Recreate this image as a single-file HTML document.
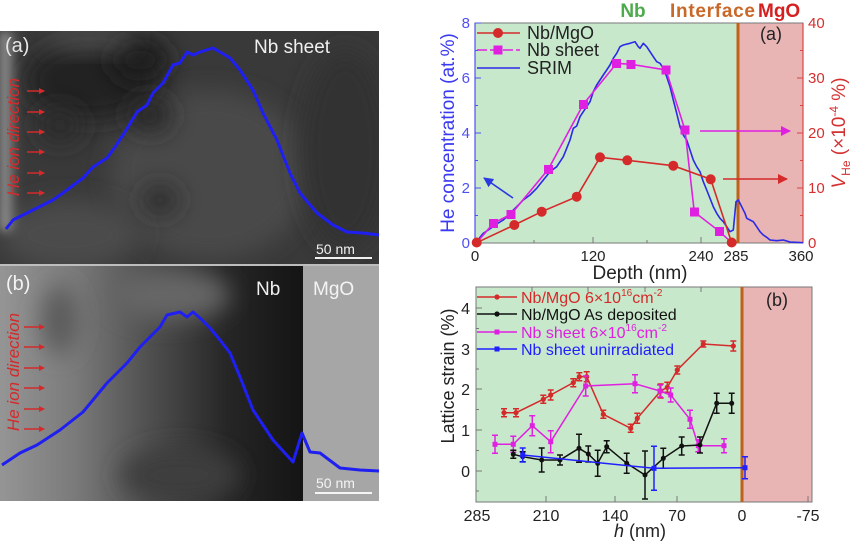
<!DOCTYPE html>
<html><head><meta charset="utf-8">
<style>
html,body{margin:0;padding:0;background:#fff;}
svg{display:block;font-family:"Liberation Sans",Arial,sans-serif;}
</style></head>
<body>
<svg width="858" height="546" viewBox="0 0 858 546" xmlns="http://www.w3.org/2000/svg">
<defs>
  <filter id="bl" x="-100%" y="-100%" width="300%" height="300%"><feGaussianBlur stdDeviation="12"/></filter>
  <filter id="bls" x="-100%" y="-100%" width="300%" height="300%"><feGaussianBlur stdDeviation="5"/></filter>
  <linearGradient id="gB" x1="0" y1="0" x2="1" y2="0">
    <stop offset="0" stop-color="#959595"/>
    <stop offset="0.25" stop-color="#7a7a7a"/>
    <stop offset="0.5" stop-color="#4e4e4e"/>
    <stop offset="0.75" stop-color="#262626"/>
    <stop offset="1" stop-color="#141414"/>
  </linearGradient>
  <linearGradient id="gAleft" x1="0" y1="0" x2="1" y2="0">
    <stop offset="0" stop-color="#b0b0b0"/>
    <stop offset="1" stop-color="#b0b0b0" stop-opacity="0"/>
  </linearGradient>
  <marker id="arR" markerWidth="6" markerHeight="6" refX="5" refY="3" orient="auto" markerUnits="userSpaceOnUse">
    <path d="M0,0 L6,3 L0,6 z" fill="#d42a2a"/>
  </marker>
  <marker id="arB" markerWidth="10" markerHeight="10" refX="9" refY="5" orient="auto" markerUnits="userSpaceOnUse">
    <path d="M0,0 L10,5 L0,10 z" fill="#2a3ae0"/>
  </marker>
  <marker id="arM" markerWidth="10" markerHeight="10" refX="9" refY="5" orient="auto" markerUnits="userSpaceOnUse">
    <path d="M0,0 L10,5 L0,10 z" fill="#e020e0"/>
  </marker>
  <marker id="arRd" markerWidth="10" markerHeight="10" refX="9" refY="5" orient="auto" markerUnits="userSpaceOnUse">
    <path d="M0,0 L10,5 L0,10 z" fill="#d42a2a"/>
  </marker>
  <clipPath id="cA"><rect x="0" y="31" width="379" height="233"/></clipPath>
  <clipPath id="cB"><rect x="0" y="266" width="379" height="235"/></clipPath>
</defs>

<!-- ============ TEM (a) ============ -->
<g clip-path="url(#cA)">
  <rect x="0" y="31" width="379" height="233" fill="#393939"/>
  <ellipse cx="210" cy="175" rx="100" ry="85" fill="#494949" filter="url(#bl)"/>
  <ellipse cx="70" cy="235" rx="70" ry="35" fill="#4c4c4c" filter="url(#bl)"/>
  <ellipse cx="345" cy="150" rx="45" ry="100" fill="#333" filter="url(#bl)"/>
  <ellipse cx="90" cy="80" rx="65" ry="40" fill="#202020" filter="url(#bl)"/>
  <ellipse cx="140" cy="60" rx="30" ry="22" fill="#1c1c1c" filter="url(#bl)"/>
  <ellipse cx="150" cy="115" rx="22" ry="18" fill="#262626" filter="url(#bl)"/>
  <ellipse cx="60" cy="125" rx="22" ry="18" fill="#2a2a2a" filter="url(#bl)"/>
  <ellipse cx="160" cy="200" rx="18" ry="14" fill="#2c2c2c" filter="url(#bl)"/>
  <ellipse cx="90" cy="40" rx="45" ry="8" fill="#5a5a5a" filter="url(#bl)"/>
  <rect x="0" y="31" width="18" height="200" fill="url(#gAleft)" filter="url(#bls)"/>
</g>
<rect x="0" y="264" width="379" height="2" fill="#bdbdbd"/>

<!-- ============ TEM (b) ============ -->
<g clip-path="url(#cB)">
  <rect x="0" y="266" width="303" height="235" fill="url(#gB)"/>
  <ellipse cx="170" cy="295" rx="60" ry="25" fill="#666" filter="url(#bl)"/>
  <ellipse cx="60" cy="320" rx="18" ry="35" fill="#5a5a5a" filter="url(#bl)"/>
  <ellipse cx="180" cy="475" rx="60" ry="28" fill="#3c3c3c" filter="url(#bl)"/>
  <rect x="303" y="266" width="76" height="235" fill="#a6a6a6"/>
</g>

<!-- TEM blue curves -->
<polyline fill="none" stroke="#1f1ff2" stroke-width="3" stroke-linejoin="round"
 points="6,229 13,220 33,210 53,200 67,190 83,178 93,167 107,158 115,147 125,132 137,112 147,105 153,93 163,83 173,65 180,63 187,52 193,55 200,52 213,48 220,52 230,58 240,70 253,90 263,113 277,140 290,173 300,193 317,213 333,225 347,232 363,233 379,235"/>
<polyline fill="none" stroke="#1f1ff2" stroke-width="3" stroke-linejoin="round"
 points="2,465 20,453 37,445 60,430 83,412 107,383 127,363 140,347 160,327 167,315 180,312 187,317 193,312 200,318 210,328 220,340 230,353 240,377 253,410 273,440 293,462 302,433 310,452 320,453 340,468 360,470 379,471"/>

<!-- TEM labels -->
<text x="5" y="52" font-size="20" fill="#e6e6e6">(a)</text>
<text x="254" y="53" font-size="19" fill="#f0f0f0">Nb sheet</text>
<text x="316" y="254" font-size="14" fill="#f0f0f0">50 nm</text>
<rect x="315" y="257" width="57" height="2" fill="#f0f0f0"/>
<text x="6" y="290" font-size="20" fill="#f4f4f4">(b)</text>
<text x="256" y="295" font-size="19" fill="#f0f0f0">Nb</text>
<text x="313" y="295" font-size="19" fill="#f4f4f4">MgO</text>
<text x="316" y="488" font-size="14" fill="#f4f4f4">50 nm</text>
<rect x="315" y="492" width="57" height="2" fill="#f4f4f4"/>

<text transform="translate(19,137) rotate(-90)" font-size="17" font-style="italic" fill="#d42a2a" text-anchor="middle">He ion direction</text>
<text transform="translate(19,372) rotate(-90)" font-size="17" font-style="italic" fill="#d42a2a" text-anchor="middle">He ion direction</text>
<g stroke="#d42a2a" stroke-width="1.6" marker-end="url(#arR)">
  <line x1="27" y1="91" x2="44" y2="91"/><line x1="27" y1="112" x2="44" y2="112"/>
  <line x1="27" y1="132" x2="44" y2="132"/><line x1="27" y1="152" x2="44" y2="152"/>
  <line x1="27" y1="173" x2="44" y2="173"/><line x1="27" y1="193" x2="44" y2="193"/>
  <line x1="24" y1="327" x2="44" y2="327"/><line x1="24" y1="347" x2="44" y2="347"/>
  <line x1="24" y1="368" x2="44" y2="368"/><line x1="24" y1="388" x2="44" y2="388"/>
  <line x1="24" y1="409" x2="44" y2="409"/><line x1="24" y1="429" x2="44" y2="429"/>
</g>

<!-- ============ Chart (a) ============ -->
<text x="633" y="17" font-size="19" font-weight="bold" fill="#4daa4d" text-anchor="middle">Nb</text>
<text x="670" y="17" font-size="19" font-weight="bold" fill="#c8692a" textLength="85">Interface</text>
<text x="758" y="17" font-size="19" font-weight="bold" fill="#d42020">MgO</text>

<rect x="475" y="23" width="263" height="220" fill="#c8e8cc"/>
<rect x="738" y="23" width="65" height="220" fill="#e8b4b4"/>
<rect x="475" y="23" width="328" height="220" fill="none" stroke="#777" stroke-width="1"/>
<line x1="738" y1="23" x2="738" y2="243" stroke="#c0601a" stroke-width="3"/>
<line x1="475" y1="23" x2="475" y2="243" stroke="#5050f0" stroke-width="1.2"/>
<line x1="803" y1="23" x2="803" y2="243" stroke="#d44" stroke-width="1.2"/>
<g stroke="#5050f0" stroke-width="1">
  <line x1="475" y1="23" x2="481" y2="23"/><line x1="475" y1="78" x2="481" y2="78"/>
  <line x1="475" y1="133" x2="481" y2="133"/><line x1="475" y1="188" x2="481" y2="188"/>
  <line x1="475" y1="50.5" x2="478" y2="50.5"/><line x1="475" y1="105.5" x2="478" y2="105.5"/>
  <line x1="475" y1="160.5" x2="478" y2="160.5"/><line x1="475" y1="215.5" x2="478" y2="215.5"/>
</g>
<g stroke="#d44" stroke-width="1">
  <line x1="797" y1="78" x2="803" y2="78"/><line x1="797" y1="133" x2="803" y2="133"/>
  <line x1="797" y1="188" x2="803" y2="188"/>
  <line x1="800" y1="50.5" x2="803" y2="50.5"/><line x1="800" y1="105.5" x2="803" y2="105.5"/>
  <line x1="800" y1="160.5" x2="803" y2="160.5"/><line x1="800" y1="215.5" x2="803" y2="215.5"/>
</g>
<g stroke="#777" stroke-width="1">
  <line x1="593" y1="243" x2="593" y2="237"/><line x1="701" y1="243" x2="701" y2="237"/>
  <line x1="534" y1="243" x2="534" y2="240"/><line x1="647" y1="243" x2="647" y2="240"/>
</g>
<g font-size="15" fill="#5050f0" text-anchor="end">
  <text x="470" y="28">8</text><text x="470" y="83">6</text><text x="470" y="138">4</text>
  <text x="470" y="193">2</text><text x="470" y="248">0</text>
</g>
<g font-size="15" fill="#d43030" text-anchor="start">
  <text x="808" y="28">40</text><text x="808" y="83">30</text><text x="808" y="138">20</text>
  <text x="808" y="193">10</text><text x="808" y="248">0</text>
</g>
<g font-size="15" fill="#222" text-anchor="middle">
  <text x="475" y="261">0</text><text x="593" y="261">120</text><text x="701" y="261">240</text>
  <text x="736" y="261">285</text><text x="801" y="261">360</text>
</g>
<text x="640" y="279" font-size="19" fill="#222" text-anchor="middle">Depth (nm)</text>
<text transform="translate(454,133) rotate(-90)" font-size="19" fill="#3a3af0" text-anchor="middle">He concentration (at.%)</text>
<text transform="translate(845,133) rotate(-90)" font-size="19" fill="#d43030" text-anchor="middle"><tspan font-style="italic">V</tspan><tspan font-size="12" dy="5">He</tspan><tspan dy="-5"> (×10</tspan><tspan font-size="12" dy="-7">-4</tspan><tspan dy="7"> %)</tspan></text>

<polyline fill="none" stroke="#2a2ae8" stroke-width="1.6" stroke-linejoin="round"
 points="476.7,242.7 480,237.3 483.3,233.3 488.3,230 496.7,224 503.3,220 510,213.3 516.7,206.7 523.3,200 530,195 536.7,188.3 543.3,180 550,171.7 556.7,166.7 563.3,156.7 566.7,148.3 570,140 573.3,128.3 576.7,126 580,116.7 583.3,111.7 586.7,106.7 590,101.7 593.3,91.7 596.7,85 600,80 603.3,75 606.7,70 610,65 613.3,58.3 616.7,53.3 620,46.7 623.3,45 630,43.3 635,41.7 638.3,46.7 640,48.3 643.3,43.3 646.7,46.7 650,51.7 653.3,56.7 656.7,61.7 660,63.3 663.3,68.3 666.7,76.7 670,86.7 673.3,100 676.7,113.3 680,126.7 683.3,135 686.7,140 690,150 693.3,160 696.7,166.7 700,171.7 703.3,181.7 706.7,190 710,198.3 713.3,206.7 716.7,213.3 720,218.3 723.3,221.7 726.7,226.7 730,231.7 733.3,230 736,201.7 738.3,200 741.7,206.7 745,213.3 746.7,218.3 750,220 753.3,221.7 756.7,226.7 760,231.7 763.3,235 766.7,237.3 770,240 776.7,240.7 783.3,240 790,242 803,242.7"/>
<polyline fill="none" stroke="#e020e0" stroke-width="1.6"
 points="476.7,242.7 493.3,223.3 511,214.3 548.3,169.3 583.3,104.3 616.7,63.3 631,64.3 666,70 685,130 694.3,212 719.3,231.3 731.7,242.7"/>
<g fill="#e020e0">
  <rect x="489" y="219" width="9" height="9"/><rect x="506.5" y="210" width="9" height="9"/>
  <rect x="544" y="165" width="9" height="9"/><rect x="579" y="100" width="9" height="9"/>
  <rect x="612" y="59" width="9" height="9"/><rect x="626.5" y="60" width="9" height="9"/>
  <rect x="661.5" y="65.5" width="9" height="9"/><rect x="680.5" y="125.5" width="9" height="9"/>
  <rect x="690" y="207.5" width="9" height="9"/><rect x="715" y="227" width="9" height="9"/>
</g>
<polyline fill="none" stroke="#d42a2a" stroke-width="1.6"
 points="476.7,242.7 514.3,225 541.7,211.7 576.7,196.7 600,157.3 627.3,160.3 673.3,165.7 710.7,179.3 731.7,242.7"/>
<g fill="#d42a2a">
  <circle cx="476.7" cy="242.5" r="5"/><circle cx="514.3" cy="225" r="5"/><circle cx="541.7" cy="211.7" r="5"/>
  <circle cx="576.7" cy="196.7" r="5"/><circle cx="600" cy="157.3" r="5"/><circle cx="627.3" cy="160.3" r="5"/>
  <circle cx="673.3" cy="165.7" r="5"/><circle cx="710.7" cy="179.3" r="5"/><circle cx="731.7" cy="242.5" r="5"/>
</g>
<line x1="513" y1="198" x2="484" y2="178" stroke="#2a3ae0" stroke-width="1.6" marker-end="url(#arB)"/>
<line x1="700" y1="131" x2="790" y2="131" stroke="#e020e0" stroke-width="1.6" marker-end="url(#arM)"/>
<line x1="723" y1="179" x2="787" y2="179" stroke="#d42a2a" stroke-width="1.6" marker-end="url(#arRd)"/>
<line x1="477" y1="33" x2="520" y2="33" stroke="#d42a2a" stroke-width="1.6"/>
<circle cx="498" cy="33" r="5" fill="#d42a2a"/>
<line x1="477" y1="50" x2="520" y2="50" stroke="#e020e0" stroke-width="1.6" stroke-dasharray="10,3"/>
<rect x="493.5" y="45.5" width="9" height="9" fill="#e020e0"/>
<line x1="477" y1="68" x2="520" y2="68" stroke="#2a2ae8" stroke-width="1.6"/>
<g font-size="18" fill="#222">
  <text x="527" y="39">Nb/MgO</text><text x="527" y="56">Nb sheet</text><text x="527" y="74">SRIM</text>
</g>
<text x="760" y="40" font-size="18" fill="#222">(a)</text>

<!-- ============ Chart (b) ============ -->
<rect x="476" y="287" width="266" height="215" fill="#c8e8cc"/>
<rect x="742" y="287" width="70" height="215" fill="#e8b4b4"/>
<rect x="476" y="287" width="336" height="215" fill="none" stroke="#777" stroke-width="1"/>
<line x1="742" y1="287" x2="742" y2="502" stroke="#c0601a" stroke-width="3"/>
<g stroke="#777" stroke-width="1">
  <line x1="476" y1="308" x2="482" y2="308"/><line x1="476" y1="349" x2="482" y2="349"/>
  <line x1="476" y1="389" x2="482" y2="389"/><line x1="476" y1="430" x2="482" y2="430"/>
  <line x1="476" y1="471" x2="482" y2="471"/>
  <line x1="476" y1="328.5" x2="479" y2="328.5"/><line x1="476" y1="369" x2="479" y2="369"/>
  <line x1="476" y1="409.5" x2="479" y2="409.5"/><line x1="476" y1="450.5" x2="479" y2="450.5"/>
  <line x1="476" y1="491" x2="479" y2="491"/>
  <line x1="546" y1="502" x2="546" y2="496"/><line x1="615" y1="502" x2="615" y2="496"/>
  <line x1="677" y1="502" x2="677" y2="496"/><line x1="808" y1="502" x2="808" y2="496"/>
  <line x1="532" y1="287" x2="532" y2="292"/><line x1="588" y1="287" x2="588" y2="292"/>
  <line x1="645" y1="287" x2="645" y2="292"/><line x1="701" y1="287" x2="701" y2="292"/>
</g>
<g font-size="16" fill="#222" text-anchor="end">
  <text x="470" y="314">4</text><text x="470" y="355">3</text><text x="470" y="395">2</text>
  <text x="470" y="436">1</text><text x="470" y="477">0</text>
</g>
<g font-size="16" fill="#222" text-anchor="middle">
  <text x="477" y="521">285</text><text x="546" y="521">210</text><text x="615" y="521">140</text>
  <text x="677" y="521">70</text><text x="742" y="521">0</text><text x="808" y="521">-75</text>
</g>
<text x="640" y="537" font-size="18" fill="#222" text-anchor="middle"><tspan font-style="italic">h</tspan> (nm)</text>
<text transform="translate(454,376) rotate(-90)" font-size="18" fill="#222" text-anchor="middle">Lattice strain (%)</text>
<text x="766" y="306" font-size="18" fill="#222">(b)</text>

<g stroke="#d42a2a" stroke-width="1.5" fill="none">
<polyline points="504,412.7 516,412.7 543.3,399.3 550.7,395 573.3,382.7 579.3,376.7 586.7,376.7 603.3,414.3 630.7,428.3 637.3,418.3 660.7,391 667.3,387.3 677.3,370 703.3,344 733.3,346"/>
<path d="M504,408.7V416.7M501,408.7h6M501,416.7h6 M516,408.7V416.7M513,408.7h6M513,416.7h6 M543.3,395.3V403.3M540.3,395.3h6M540.3,403.3h6 M550.7,390V400M547.7,390h6M547.7,400h6 M573.3,378.7V386.7M570.3,378.7h6M570.3,386.7h6 M579.3,372.7V380.7M576.3,372.7h6M576.3,380.7h6 M586.7,371.7V381.7M583.7,371.7h6M583.7,381.7h6 M603.3,410.3V418.3M600.3,410.3h6M600.3,418.3h6 M630.7,424.3V432.3M627.7,424.3h6M627.7,432.3h6 M637.3,413.3V423.3M634.3,413.3h6M634.3,423.3h6 M660.7,384V398M657.7,384h6M657.7,398h6 M667.3,382.3V392.3M664.3,382.3h6M664.3,392.3h6 M677.3,366V374M674.3,366h6M674.3,374h6 M703.3,341V347M700.3,341h6M700.3,347h6 M733.3,341V351M730.3,341h6M730.3,351h6"/>
</g>
<g fill="#d42a2a">
<circle cx="504" cy="412.7" r="2.6"/><circle cx="516" cy="412.7" r="2.6"/><circle cx="543.3" cy="399.3" r="2.6"/><circle cx="550.7" cy="395" r="2.6"/><circle cx="573.3" cy="382.7" r="2.6"/><circle cx="579.3" cy="376.7" r="2.6"/><circle cx="586.7" cy="376.7" r="2.6"/><circle cx="603.3" cy="414.3" r="2.6"/><circle cx="630.7" cy="428.3" r="2.6"/><circle cx="637.3" cy="418.3" r="2.6"/><circle cx="660.7" cy="391" r="2.6"/><circle cx="667.3" cy="387.3" r="2.6"/><circle cx="677.3" cy="370" r="2.6"/><circle cx="703.3" cy="344" r="2.6"/><circle cx="733.3" cy="346" r="2.6"/>
</g>

<g stroke="#e020e0" stroke-width="1.5" fill="none">
<polyline points="495,444.3 513.3,444.3 532.3,425.7 550.7,441.7 585.7,386 635,383.7 660,391 670.7,395 690,419.3 698.3,445.7 724,445.7"/>
<path d="M495,435.3V453.3M492,435.3h6M492,453.3h6 M513.3,436.3V452.3M510.3,436.3h6M510.3,452.3h6 M532.3,415.7V435.7M529.3,415.7h6M529.3,435.7h6 M550.7,430.7V452.7M547.7,430.7h6M547.7,452.7h6 M585.7,376V396M582.7,376h6M582.7,396h6 M635,374.7V392.7M632,374.7h6M632,392.7h6 M660,385V397M657,385h6M657,397h6 M670.7,388V402M667.7,388h6M667.7,402h6 M690,410.3V428.3M687,410.3h6M687,428.3h6 M698.3,439.7V451.7M695.3,439.7h6M695.3,451.7h6 M724,438.7V452.7M721,438.7h6M721,452.7h6"/>
</g>
<g fill="#e020e0">
<rect x="492.5" y="441.8" width="5" height="5"/><rect x="510.8" y="441.8" width="5" height="5"/><rect x="529.8" y="423.2" width="5" height="5"/><rect x="548.2" y="439.2" width="5" height="5"/><rect x="583.2" y="383.5" width="5" height="5"/><rect x="632.5" y="381.2" width="5" height="5"/><rect x="657.5" y="388.5" width="5" height="5"/><rect x="668.2" y="392.5" width="5" height="5"/><rect x="687.5" y="416.8" width="5" height="5"/><rect x="695.8" y="443.2" width="5" height="5"/><rect x="721.5" y="443.2" width="5" height="5"/>
</g>

<g stroke="#111" stroke-width="1.5" fill="none">
<polyline points="513.3,454.3 522.7,456.7 541.7,460 560,460 579,448.3 588.3,454 597.7,463.3 606.7,446.7 626.7,463.3 645,475 663.3,458.3 681.7,446 700,445 716.7,403.3 731.7,403.3"/>
<path d="M513.3,450.3V458.3M510.3,450.3h6M510.3,458.3h6 M522.7,451.7V461.7M519.7,451.7h6M519.7,461.7h6 M541.7,448V472M538.7,448h6M538.7,472h6 M560,455V465M557,455h6M557,465h6 M579,434.3V462.3M576,434.3h6M576,462.3h6 M588.3,446V462M585.3,446h6M585.3,462h6 M597.7,450.3V476.3M594.7,450.3h6M594.7,476.3h6 M606.7,440.7V452.7M603.7,440.7h6M603.7,452.7h6 M626.7,453.3V473.3M623.7,453.3h6M623.7,473.3h6 M645,451V499M642,451h6M642,499h6 M663.3,448.3V468.3M660.3,448.3h6M660.3,468.3h6 M681.7,437V455M678.7,437h6M678.7,455h6 M700,437V453M697,437h6M697,453h6 M716.7,393.3V413.3M713.7,393.3h6M713.7,413.3h6 M731.7,393.3V413.3M728.7,393.3h6M728.7,413.3h6"/>
</g>
<g fill="#111">
<circle cx="513.3" cy="454.3" r="2.5"/><circle cx="522.7" cy="456.7" r="2.5"/><circle cx="541.7" cy="460" r="2.5"/><circle cx="560" cy="460" r="2.5"/><circle cx="579" cy="448.3" r="2.5"/><circle cx="588.3" cy="454" r="2.5"/><circle cx="597.7" cy="463.3" r="2.5"/><circle cx="606.7" cy="446.7" r="2.5"/><circle cx="626.7" cy="463.3" r="2.5"/><circle cx="645" cy="475" r="2.5"/><circle cx="663.3" cy="458.3" r="2.5"/><circle cx="681.7" cy="446" r="2.5"/><circle cx="700" cy="445" r="2.5"/><circle cx="716.7" cy="403.3" r="2.5"/><circle cx="731.7" cy="403.3" r="2.5"/>
</g>

<g stroke="#2020ff" stroke-width="1.5" fill="none">
<polyline points="522.7,455 654,468.3 745,467.7"/>
<path d="M522.7,448V462M519.7,448h6M519.7,462h6 M654,446.3V490.3M651,446.3h6M651,490.3h6 M745,456.7V478.7M742,456.7h6M742,478.7h6"/>
</g>
<g fill="#2020ff">
<rect x="520.2" y="452.5" width="5" height="5"/><rect x="651.5" y="465.8" width="5" height="5"/><rect x="742.5" y="465.2" width="5" height="5"/>
</g>

<line x1="477" y1="297" x2="517" y2="297" stroke="#d42a2a" stroke-width="1.5"/><circle cx="497" cy="297" r="2.6" fill="#d42a2a"/>
<line x1="477" y1="314" x2="517" y2="314" stroke="#111" stroke-width="1.5"/><circle cx="497" cy="314" r="2.6" fill="#111"/>
<line x1="477" y1="332" x2="517" y2="332" stroke="#e020e0" stroke-width="1.5"/><rect x="494.5" y="329.5" width="5" height="5" fill="#e020e0"/>
<line x1="477" y1="349" x2="517" y2="349" stroke="#2020ff" stroke-width="1.5"/><rect x="494.5" y="346.5" width="5" height="5" fill="#2020ff"/>
<g font-size="16">
  <text x="521" y="303" fill="#d42a2a">Nb/MgO 6×10<tspan font-size="10" dy="-7">16</tspan><tspan dy="7">cm</tspan><tspan font-size="10" dy="-7">-2</tspan></text>
  <text x="521" y="320" fill="#111">Nb/MgO As deposited</text>
  <text x="521" y="338" fill="#e020e0">Nb sheet 6×10<tspan font-size="10" dy="-7">16</tspan><tspan dy="7">cm</tspan><tspan font-size="10" dy="-7">-2</tspan></text>
  <text x="521" y="355" fill="#2020ff">Nb sheet unirradiated</text>
</g>
</svg>
</body></html>
